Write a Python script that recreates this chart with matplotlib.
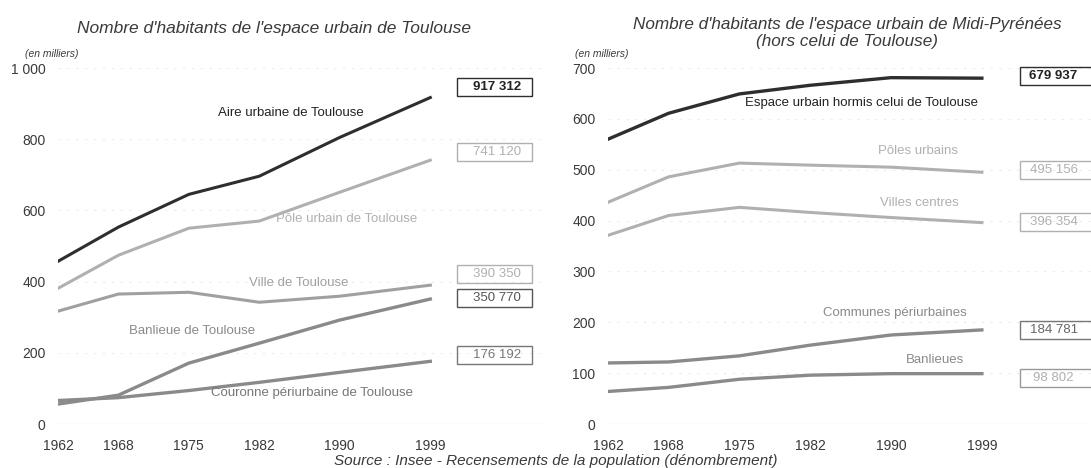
import matplotlib
matplotlib.use("Agg")
import matplotlib.pyplot as plt
from matplotlib.patches import Rectangle
from matplotlib import font_manager

# données (en milliers d'habitants)
years = [1962, 1968, 1975, 1982, 1990, 1999]

aire_urbaine = [457, 553, 645, 696, 805, 917]
pole_urbain = [381, 474, 550, 570, 651, 741]
ville_toulouse = [317, 365, 370, 342, 359, 390]
banlieue = [56, 81, 171, 227, 292, 351]
couronne = [66, 74, 94, 117, 145, 176]

espace_urbain = [560, 611, 649, 666, 681, 680]
poles_urbains = [436, 486, 513, 509, 505, 495]
villes_centres = [371, 410, 426, 416, 406, 396]
communes_peri = [120, 122, 134, 155, 175, 185]
banlieues = [64, 72, 88, 96, 99, 99]

left_ticks = [0, 200, 400, 600, 800, 1000]
left_ticklabels = ["0", "200", "400", "600", "800", "1 000"]
right_ticks = [0, 100, 200, 300, 400, 500, 600, 700]

left_boxes = ["917 312", "741 120", "390 350", "350 770", "176 192"]
right_boxes = ["679 937", "495 156", "396 354", "184 781", "98 802"]

# choix de la police étroite si dispo
names = {f.name for f in font_manager.fontManager.ttflist}
narrow = "Liberation Sans Narrow" if "Liberation Sans Narrow" in names else "Liberation Sans"
plt.rcParams['font.family'] = ['Liberation Sans', 'DejaVu Sans']

DARK = "#2e2e2e"
MID = "#8a8a8a"
LIGHT = "#b0b0b0"
TXT = "#3a3a3a"

fig = plt.figure(figsize=(10.91, 4.68), dpi=100)
fig.patch.set_facecolor("white")

ax1 = fig.add_axes([58 / 1091, 44 / 468, 487 / 1091, 356 / 468])
ax2 = fig.add_axes([608 / 1091, 44 / 468, 483 / 1091, 356 / 468])


def style(ax, ticks, labels, ymax, xmax):
    ax.set_xlim(1962, xmax)
    ax.set_ylim(0, ymax)
    for s in ax.spines.values():
        s.set_visible(False)
    ax.set_xticks(years)
    ax.set_xticklabels([str(y) for y in years])
    ax.set_yticks(ticks)
    ax.set_yticklabels(labels)
    ax.tick_params(length=0, labelsize=10, labelcolor=TXT)
    ax.tick_params(axis='x', pad=11)
    ax.tick_params(axis='y', pad=9)
    for t in ticks[1:]:
        ax.axhline(t, color="#ececec", lw=0.8, ls=(0, (2, 6)), zorder=0)
    ax.axhline(0, color="#d0d0d0", lw=1.0, ls=(0, (1, 2)), zorder=0)


style(ax1, left_ticks, left_ticklabels, 1000, 2010.4)
style(ax2, right_ticks, [str(t) for t in right_ticks], 700, 2009.8)

# graphique de gauche
ax1.plot(years, aire_urbaine, color=DARK, lw=2.2)
ax1.plot(years, pole_urbain, color=LIGHT, lw=2.2)
ax1.plot(years, ville_toulouse, color="#a0a0a0", lw=2.2)
ax1.plot(years, banlieue, color=MID, lw=2.4)
ax1.plot(years, couronne, color=MID, lw=2.4)

lab = dict(fontfamily=narrow, fontsize=9.5, ha='center', va='center')
ax1.text(1985.1, 875, "Aire urbaine de Toulouse", color="#222222", **lab)
ax1.text(1990.7, 575, "Pôle urbain de Toulouse", color=LIGHT, **lab)
ax1.text(1985.9, 395, "Ville de Toulouse", color="#a0a0a0", **lab)
ax1.text(1975.3, 262, "Banlieue de Toulouse", color=MID, **lab)
ax1.text(1987.2, 86, "Couronne périurbaine de Toulouse", color="#777777", **lab)

left_box_y = [947, 764, 421, 354, 194]
left_box_col = [DARK, LIGHT, LIGHT, "#555555", "#777777"]
left_txt_col = ["#222222", LIGHT, LIGHT, "#555555", "#777777"]
for txt, yb, ec, tc in zip(left_boxes, left_box_y, left_box_col, left_txt_col):
    ax1.add_patch(Rectangle((2005.4 - 3.7, yb - 25), 7.4, 50, fill=False,
                            ec=ec, lw=1.0, clip_on=False))
    ax1.text(2005.6, yb, txt, color=tc, fontfamily=narrow, fontsize=9.5,
             ha='center', va='center', clip_on=False,
             fontweight='bold' if txt == "917 312" else 'normal')

# graphique de droite
ax2.plot(years, espace_urbain, color=DARK, lw=2.4)
ax2.plot(years, poles_urbains, color=LIGHT, lw=2.2)
ax2.plot(years, villes_centres, color=LIGHT, lw=2.2)
ax2.plot(years, communes_peri, color=MID, lw=2.4)
ax2.plot(years, banlieues, color=MID, lw=2.4)

ax2.text(1987.1, 632, "Espace urbain hormis celui de Toulouse", color="#222222",
         **lab)
ax2.text(1992.7, 537, "Pôles urbains", color=LIGHT, **lab)
ax2.text(1992.8, 435, "Villes centres", color=LIGHT, **lab)
ax2.text(1990.4, 219, "Communes périurbaines", color=MID, **lab)
ax2.text(1994.4, 125, "Banlieues", color=MID, **lab)

right_box_y = [684, 499, 397, 185, 90]
right_box_col = [DARK, LIGHT, LIGHT, "#777777", "#999999"]
right_txt_col = ["#222222", LIGHT, LIGHT, "#666666", LIGHT]
for txt, yb, ec, tc in zip(right_boxes, right_box_y, right_box_col, right_txt_col):
    ax2.add_patch(Rectangle((2002.8, yb - 17.5), 7.2, 35, fill=False,
                            ec=ec, lw=1.0, clip_on=False))
    ax2.text(2006.1, yb, txt, color=tc, fontfamily=narrow, fontsize=9.5,
             ha='center', va='center', clip_on=False,
             fontweight='bold' if txt == "679 937" else 'normal')

# titres et notes
fig.text(274 / 1091, 1 - 28 / 468, "Nombre d'habitants de l'espace urbain de Toulouse",
         ha='center', va='center', fontsize=12.5, style='italic', color=TXT)
fig.text(847 / 1091, 1 - 33 / 468,
         "Nombre d'habitants de l'espace urbain de Midi-Pyrénées\n(hors celui de Toulouse)",
         ha='center', va='center', fontsize=12.3, style='italic', color=TXT,
         linespacing=1.1)
fig.text(25 / 1091, 1 - 54 / 468, "(en milliers)", ha='left', va='center',
         fontsize=7.5, style='italic', color=TXT)
fig.text(575 / 1091, 1 - 54 / 468, "(en milliers)", ha='left', va='center',
         fontsize=7.5, style='italic', color=TXT)
fig.text(556 / 1091, 1 - 461 / 468,
         "Source : Insee - Recensements de la population (dénombrement)",
         ha='center', va='center', fontsize=11, style='italic', color=TXT)

fig.savefig("out.png", dpi=100, facecolor="white")
